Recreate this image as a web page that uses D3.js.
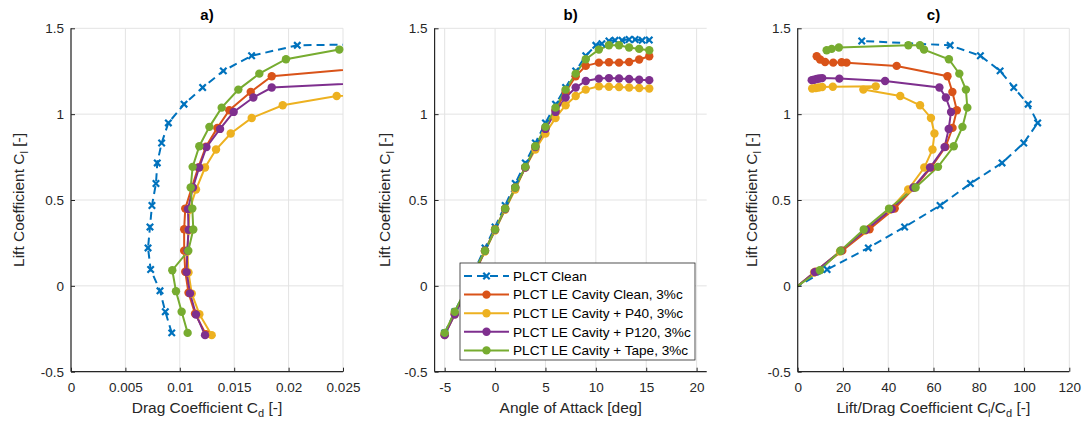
<!DOCTYPE html>
<html>
<head>
<meta charset="utf-8">
<script src="https://cdn.jsdelivr.net/npm/d3@7"></script>
<style>
  body { margin: 0; background: #fff; }
  svg { font-family: "Liberation Sans", Arial, sans-serif; }
</style>
</head>
<body>
<svg id="chart" width="1087" height="423"></svg>
<script>
// ---- data ----
const seriesNames = [
    "PLCT Clean",
    "PLCT LE Cavity Clean, 3%c",
    "PLCT LE Cavity + P40, 3%c",
    "PLCT LE Cavity + P120, 3%c",
    "PLCT LE Cavity + Tape, 3%c"
];

const cleanAlpha = [-5, -4, -3, -2, -1, 0, 1, 2, 3, 4, 5, 6, 7, 8, 9, 10, 10.6, 11.3, 11.9, 12.6, 13.3, 13.9, 14.6, 15.3];
const cleanCl = [-0.274, -0.151, -0.029, 0.095, 0.221, 0.343, 0.468, 0.596, 0.716, 0.832, 0.949, 1.058, 1.155, 1.252, 1.340, 1.401, 1.410, 1.426, 1.430, 1.430, 1.435, 1.435, 1.430, 1.432];
// null = point not present in the drag polar
const cleanCd = [0.00926, 0.00867, 0.00818, 0.00732, 0.00708, 0.00726, 0.00744, 0.00781, 0.00793, 0.00833, 0.00895, 0.01039, 0.0121, 0.0140, 0.0166, 0.0208, null, 0.0504, null, null, null, null, null, null];

const cavAlpha = [-5, -4, -3, -2, -1, 0, 1, 2, 3, 4, 5, 6, 7, 8, 9, 10.3, 11.3, 12.3, 13.3, 14.3, 15.3];

const cavCleanCl = [-0.282, -0.162, -0.040, 0.082, 0.205, 0.330, 0.450, 0.572, 0.690, 0.810, 0.920, 1.023, 1.129, 1.221, 1.281, 1.300, 1.302, 1.300, 1.304, 1.318, 1.337];
const cavCleanCd = [0.0124, 0.0114, 0.0108, 0.0105, 0.0104, 0.0104, 0.0105, 0.0111, 0.0117, 0.0124, 0.01345, 0.01455, 0.01652, 0.01845, 0.0293, 0.0602, 0.0671, 0.0828, 0.1078, 0.1331, 0.1592];

const p40Cl = [-0.287, -0.165, -0.045, 0.078, 0.200, 0.322, 0.443, 0.561, 0.689, 0.794, 0.887, 0.978, 1.052, 1.106, 1.143, 1.162, 1.160, 1.158, 1.155, 1.152, 1.149];
const p40Cd = [0.01293, 0.0118, 0.0111, 0.0108, 0.0107, 0.0108, 0.0109, 0.01149, 0.01232, 0.01333, 0.01468, 0.01661, 0.01946, 0.02442, 0.0394, 0.0337, 0.0748, 0.1072, 0.1242, 0.1440, 0.1795];

const p120Cl = [-0.287, -0.167, -0.044, 0.080, 0.204, 0.326, 0.447, 0.573, 0.689, 0.808, 0.914, 1.013, 1.097, 1.155, 1.193, 1.207, 1.210, 1.208, 1.205, 1.200, 1.198];
const p120Cd = [0.01232, 0.01149, 0.01094, 0.01063, 0.01069, 0.0108, 0.01075, 0.01121, 0.01178, 0.01245, 0.0137, 0.01495, 0.01676, 0.01845, 0.0309, 0.0656, 0.1120, 0.1272, 0.1435, 0.1667, 0.1932];

const tapeCl = [-0.274, -0.151, -0.031, 0.091, 0.204, 0.328, 0.450, 0.573, 0.693, 0.813, 0.926, 1.038, 1.143, 1.236, 1.320, 1.376, 1.401, 1.401, 1.388, 1.380, 1.372];
const tapeCd = [0.01072, 0.01017, 0.00965, 0.00931, 0.01078, 0.01124, 0.01115, 0.0110, 0.01118, 0.01179, 0.01272, 0.01385, 0.01538, 0.01731, 0.01976, 0.02466, 0.02594, 0.02865, 0.0763, 0.0920, 0.1072];

const colors = ["#0072BD", "#D95319", "#EDB120", "#7E2F8E", "#77AC30"];

const clTicks = [-0.5, 0, 0.5, 1, 1.5];
const cdTicks = [0, 0.005, 0.01, 0.015, 0.02, 0.025];
const aoaTicks = [-5, 0, 5, 10, 15, 20];
const ldTicks = [0, 20, 40, 60, 80, 100, 120];

function makeSeries(name, i, alpha, cl, cd) {
    return {
        name, color: colors[i], clean: i === 0,
        pts: alpha.map((a, k) => ({ alpha: a, cl: cl[k], cd: cd[k], ld: cd[k] == null ? null : cl[k] / cd[k] }))
    };
}
const series = [
    makeSeries(seriesNames[0], 0, cleanAlpha, cleanCl, cleanCd),
    makeSeries(seriesNames[1], 1, cavAlpha, cavCleanCl, cavCleanCd),
    makeSeries(seriesNames[2], 2, cavAlpha, p40Cl, p40Cd),
    makeSeries(seriesNames[3], 3, cavAlpha, p120Cl, p120Cd),
    makeSeries(seriesNames[4], 4, cavAlpha, tapeCl, tapeCd)
];

const svg = d3.select("#chart");
const axisColor = "#262626";
const gridColor = "#e3e3e3";
const plotTop = 28.3, plotBottom = 371.7;

const y = d3.scaleLinear().domain([-0.5, 1.5]).range([plotBottom, plotTop]);

const panels = [
    { id: "a", title: "a)", x: d3.scaleLinear().domain([0, 0.025]).range([71, 343]), ticks: cdTicks,
      key: "cd", label: ["Drag Coefficient C", "d", " [-]"], ylabX: 24 },
    { id: "b", title: "b)", x: d3.scaleLinear().domain([-6, 21]).range([434.6, 706.7]), ticks: aoaTicks,
      key: "alpha", label: ["Angle of Attack [deg]"], ylabX: 390 },
    { id: "c", title: "c)", x: d3.scaleLinear().domain([0, 120]).range([797.7, 1069.3]), ticks: ldTicks,
      key: "ld", label: ["Lift/Drag Coefficient C", "l", "/C", "d", " [-]"], ylabX: 757 }
];

function crossPath(s) {
    return `M${-s},${-s}L${s},${s}M${-s},${s}L${s},${-s}`;
}

panels.forEach(p => {
    const x = p.x;
    const [x0, x1] = x.range();
    const g = svg.append("g");

    // grid
    g.selectAll(".gx").data(p.ticks).enter().append("line")
        .attr("x1", d => x(d)).attr("x2", d => x(d))
        .attr("y1", plotTop).attr("y2", plotBottom)
        .attr("stroke", gridColor).attr("stroke-width", 1);
    g.selectAll(".gy").data(clTicks).enter().append("line")
        .attr("x1", x0).attr("x2", x1)
        .attr("y1", d => y(d)).attr("y2", d => y(d))
        .attr("stroke", gridColor).attr("stroke-width", 1);

    // clip for lines
    svg.append("clipPath").attr("id", "clip-" + p.id)
        .append("rect").attr("x", x0).attr("y", plotTop).attr("width", x1 - x0).attr("height", plotBottom - plotTop);

    const lineG = g.append("g").attr("clip-path", `url(#clip-${p.id})`);
    const line = d3.line().x(d => x(d[p.key])).y(d => y(d.cl));

    series.forEach(s => {
        const pts = s.pts.filter(d => d[p.key] != null);
        lineG.append("path")
            .datum(pts)
            .attr("fill", "none")
            .attr("stroke", s.color)
            .attr("stroke-width", 2)
            .attr("stroke-dasharray", s.clean ? "8,5" : null)
            .attr("d", line);

        const [dx0, dx1] = x.domain();
        const vis = pts.filter(d => d[p.key] >= dx0 - 1e-9 && d[p.key] <= dx1 + 1e-9 && d.cl >= -0.5 && d.cl <= 1.5);
        if (s.clean) {
            g.selectAll(null).data(vis).enter().append("path")
                .attr("transform", d => `translate(${x(d[p.key])},${y(d.cl)})`)
                .attr("d", crossPath(3.2))
                .attr("stroke", s.color).attr("stroke-width", 2.2).attr("fill", "none");
        } else {
            g.selectAll(null).data(vis).enter().append("circle")
                .attr("cx", d => x(d[p.key])).attr("cy", d => y(d.cl))
                .attr("r", 4.2).attr("fill", s.color);
        }
    });

    // axes (MATLAB-style inward ticks)
    const xAxis = g.append("g")
        .attr("transform", `translate(0,${plotBottom})`)
        .call(d3.axisBottom(x).tickValues(p.ticks).tickSize(-4).tickPadding(11).tickFormat(d => String(d)));
    const yAxis = g.append("g")
        .attr("transform", `translate(${x0},0)`)
        .call(d3.axisLeft(y).tickValues(clTicks).tickSize(-4).tickPadding(7).tickFormat(d => String(d)));
    [xAxis, yAxis].forEach(a => {
        a.select(".domain").attr("stroke", axisColor).attr("stroke-width", 1.2);
        a.selectAll(".tick line").attr("stroke", axisColor);
        a.selectAll("text").attr("fill", axisColor).style("font-size", "13.5px")
            .style("font-family", "'Liberation Sans', Arial, sans-serif");
    });
    xAxis.select(".domain").attr("d", `M${x0},0H${x1}`);
    yAxis.select(".domain").attr("d", `M0,${plotBottom}V${plotTop}`);

    // title
    svg.append("text")
        .attr("x", (x0 + x1) / 2).attr("y", 20)
        .attr("text-anchor", "middle")
        .attr("fill", "#000")
        .style("font-size", "15px").style("font-weight", "bold")
        .text(p.title);

    // x label with subscripts
    const xl = svg.append("text")
        .attr("x", (x0 + x1) / 2).attr("y", 413)
        .attr("text-anchor", "middle")
        .attr("fill", axisColor)
        .style("font-size", "15.5px");
    p.label.forEach((t, i) => {
        const sub = i % 2 === 1;
        xl.append("tspan")
            .attr("dy", sub ? 4 : (i > 0 ? -4 : 0))
            .style("font-size", sub ? "11px" : "15.5px")
            .text(t);
    });

    // y label
    const yl = svg.append("text")
        .attr("transform", `translate(${p.ylabX},${(plotTop + plotBottom) / 2}) rotate(-90)`)
        .attr("text-anchor", "middle")
        .attr("fill", axisColor)
        .style("font-size", "15.5px");
    yl.append("tspan").text("Lift Coefficient C");
    yl.append("tspan").attr("dy", 4).style("font-size", "11px").text("l");
    yl.append("tspan").attr("dy", -4).text(" [-]");
});

// legend inside panel b
const leg = svg.append("g");
leg.append("rect")
    .attr("x", 460).attr("y", 263).attr("width", 235).attr("height", 97)
    .attr("fill", "#fff").attr("stroke", axisColor).attr("stroke-width", 0.8);
series.forEach((s, i) => {
    const yy = 276 + i * 18.6;
    leg.append("line")
        .attr("x1", 464).attr("x2", 509).attr("y1", yy).attr("y2", yy)
        .attr("stroke", s.color).attr("stroke-width", 2)
        .attr("stroke-dasharray", s.clean ? "8,5" : null);
    if (s.clean) {
        leg.append("path").attr("transform", `translate(486.5,${yy})`)
            .attr("d", crossPath(3.2)).attr("stroke", s.color).attr("stroke-width", 2.2);
    } else {
        leg.append("circle").attr("cx", 486.5).attr("cy", yy).attr("r", 4.2).attr("fill", s.color);
    }
    leg.append("text")
        .attr("x", 513).attr("y", yy + 4.8)
        .attr("fill", "#000")
        .style("font-size", "13.6px")
        .text(s.name);
});
</script>
</body>
</html>
